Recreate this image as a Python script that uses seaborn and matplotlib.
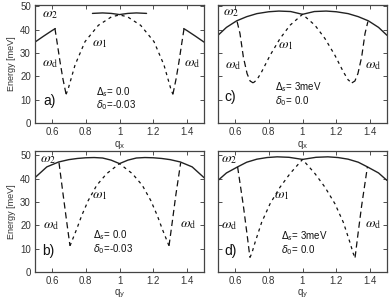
import matplotlib
matplotlib.use('Agg')
import matplotlib.pyplot as plt
import seaborn as sns

# values (q in r.l.u., energy in meV)

# a) delta_s = 0, delta_0 = -0.03, along q_x
a_w2_left_x = [0.5, 0.55, 0.6, 0.62]
a_w2_left_y = [34.7, 37.2, 39.6, 40.5]
a_w2_mid_x = [0.84, 0.9, 0.95, 1.0, 1.05, 1.1, 1.16]
a_w2_mid_y = [47.0, 47.2, 47.0, 46.5, 47.0, 47.2, 47.0]
a_w2_right_x = [1.38, 1.4, 1.45, 1.5]
a_w2_right_y = [40.5, 39.6, 37.2, 34.7]
a_wd_left_x = [0.618, 0.633, 0.648, 0.665, 0.684]
a_wd_left_y = [40.5, 33.5, 26.3, 19.0, 12.3]
a_wd_right_x = [1.316, 1.335, 1.352, 1.367, 1.382]
a_wd_right_y = [12.3, 19.0, 26.3, 33.5, 40.5]
a_w1_x = [0.684, 0.697, 0.737, 0.796, 0.875, 0.954, 1.0, 1.046, 1.125, 1.204, 1.263, 1.303, 1.316]
a_w1_y = [12.3, 14.8, 24.9, 34.9, 41.9, 45.6, 46.3, 45.6, 41.9, 34.9, 24.9, 14.8, 12.3]

# c) delta_s = 3 meV, delta_0 = 0, along q_x
c_w2_x = [0.5, 0.55, 0.61, 0.67, 0.73, 0.8, 0.86, 0.93, 1.0, 1.07, 1.14, 1.2, 1.27, 1.33, 1.39, 1.45, 1.5]
c_w2_y = [37.6, 41.0, 43.8, 45.6, 46.9, 47.7, 48.0, 47.8, 46.6, 47.8, 48.0, 47.7, 46.9, 45.6, 43.8, 41.0, 37.6]
c_wd_left_x = [0.613, 0.63, 0.65, 0.672, 0.69, 0.708]
c_wd_left_y = [43.5, 38.4, 28.3, 21.2, 18.0, 17.2]
c_wd_right_x = [1.292, 1.31, 1.328, 1.35, 1.37, 1.387]
c_wd_right_y = [17.2, 18.0, 21.2, 28.3, 38.4, 43.5]
c_w1_x = [0.708, 0.73, 0.758, 0.808, 0.867, 0.926, 1.0, 1.074, 1.133, 1.192, 1.242, 1.27, 1.292]
c_w1_y = [17.2, 18.5, 21.9, 29.0, 36.2, 41.9, 46.6, 41.9, 36.2, 29.0, 21.9, 18.5, 17.2]

# b) delta_s = 0, delta_0 = -0.03, along q_y
b_w2_x = [0.5, 0.57, 0.64, 0.7, 0.75, 0.8, 0.85, 0.9, 0.95, 1.0, 1.05, 1.1, 1.15, 1.2, 1.25, 1.3, 1.36, 1.43, 1.5]
b_w2_y = [40.4, 45.0, 47.1, 48.1, 48.6, 48.9, 49.0, 48.8, 47.9, 46.4, 47.9, 48.8, 49.0, 48.9, 48.6, 48.1, 47.1, 45.0, 40.4]
b_wd_left_x = [0.642, 0.667, 0.688, 0.707]
b_wd_left_y = [46.8, 32.8, 21.3, 11.2]
b_wd_right_x = [1.293, 1.312, 1.333, 1.362]
b_wd_right_y = [11.2, 21.3, 32.8, 46.8]
b_w1_x = [0.707, 0.747, 0.776, 0.815, 0.865, 0.924, 1.0, 1.076, 1.135, 1.185, 1.224, 1.253, 1.293]
b_w1_y = [11.2, 18.4, 24.1, 30.6, 37.1, 42.1, 46.4, 42.1, 37.1, 30.6, 24.1, 18.4, 11.2]

# d) delta_s = 3 meV, delta_0 = 0, along q_y
d_w2_x = [0.5, 0.55, 0.616, 0.67, 0.73, 0.79, 0.85, 0.92, 1.0, 1.08, 1.15, 1.21, 1.27, 1.33, 1.384, 1.45, 1.5]
d_w2_y = [39.2, 42.4, 45.0, 47.0, 48.3, 49.0, 49.3, 49.1, 48.2, 49.1, 49.3, 49.0, 48.3, 47.0, 45.0, 42.4, 39.2]
d_wd_left_x = [0.616, 0.65, 0.673, 0.689]
d_wd_left_y = [45.0, 28.4, 15.5, 6.2]
d_wd_right_x = [1.311, 1.327, 1.35, 1.384]
d_wd_right_y = [6.2, 15.5, 28.4, 45.0]
d_w1_x = [0.689, 0.7, 0.719, 0.758, 0.808, 0.867, 0.926, 1.0, 1.074, 1.133, 1.192, 1.242, 1.281, 1.3, 1.311]
d_w1_y = [6.2, 8.0, 12.6, 21.2, 29.2, 36.3, 42.1, 48.2, 42.1, 36.3, 29.2, 21.2, 12.6, 8.0, 6.2]

x_ticks = [0.6, 0.8, 1.0, 1.2, 1.4]
x_tick_labels = ['0.6', '0.8', '1', '1.2', '1.4']
y_ticks = [0, 10, 20, 30, 40, 50]

sns.set_theme(style='ticks')
plt.rcParams['font.family'] = ['Liberation Sans', 'DejaVu Sans']

fig = plt.figure(figsize=(3.9, 3.01), dpi=100)

W, H = 390, 301
def rect(x0, x1, y0, y1):
    return [x0 / W, 1 - y1 / H, (x1 - x0) / W, (y1 - y0) / H]

panels = {
    'a': dict(rect=rect(35, 204, 5, 123), ylim=50.6),
    'c': dict(rect=rect(218, 387, 5, 123), ylim=50.6),
    'b': dict(rect=rect(35, 204, 151, 272), ylim=51.8),
    'd': dict(rect=rect(218, 387, 151, 272), ylim=51.8),
}

axes = {}
for key, p in panels.items():
    ax = fig.add_axes(p['rect'])
    ax.set_xlim(0.5, 1.5)
    ax.set_ylim(0, p['ylim'])
    ax.set_xticks(x_ticks)
    ax.set_xticklabels(x_tick_labels)
    ax.set_yticks(y_ticks)
    ax.tick_params(direction='in', length=3, width=0.6, top=True, right=True,
                   labelsize=7, pad=3, colors='#333333')
    for s in ax.spines.values():
        s.set_color('#444444')
        s.set_linewidth(0.9)
    if key in ('c', 'd'):
        ax.set_yticklabels([])
    else:
        ax.set_ylabel('Energy [meV]', fontsize=6.5, labelpad=3, color='#333333')
    axes[key] = ax

solid = dict(color='#222222', linewidth=1.0, linestyle='-')
long_dash = dict(color='#111111', linewidth=0.9, dashes=(5, 3))
short_dash = dict(color='#111111', linewidth=0.9, dashes=(2.5, 3))

def draw(ax, x, y, style):
    sns.lineplot(x=x, y=y, ax=ax, sort=False, estimator=None, **style)

ax = axes['a']
draw(ax, a_w2_left_x, a_w2_left_y, solid)
draw(ax, a_w2_mid_x, a_w2_mid_y, solid)
draw(ax, a_w2_right_x, a_w2_right_y, solid)
draw(ax, a_wd_left_x, a_wd_left_y, long_dash)
draw(ax, a_wd_right_x, a_wd_right_y, long_dash)
draw(ax, a_w1_x, a_w1_y, short_dash)

for key, w2x, w2y, wdlx, wdly, wdrx, wdry, w1x, w1y in [
        ('c', c_w2_x, c_w2_y, c_wd_left_x, c_wd_left_y, c_wd_right_x, c_wd_right_y, c_w1_x, c_w1_y),
        ('b', b_w2_x, b_w2_y, b_wd_left_x, b_wd_left_y, b_wd_right_x, b_wd_right_y, b_w1_x, b_w1_y),
        ('d', d_w2_x, d_w2_y, d_wd_left_x, d_wd_left_y, d_wd_right_x, d_wd_right_y, d_w1_x, d_w1_y)]:
    ax = axes[key]
    draw(ax, w2x, w2y, solid)
    draw(ax, wdlx, wdly, long_dash)
    draw(ax, wdrx, wdry, long_dash)
    draw(ax, w1x, w1y, short_dash)

# annotations (axes fraction positions)
labels = {
    'a': dict(w2=(0.04, 0.92), w1=(0.34, 0.68), wdl=(0.04, 0.51), wdr=(0.88, 0.51),
              ds=(0.36, 0.265), d0=(0.36, 0.15), tag=(0.05, 0.19),
              ds_txt='= 0.0', d0_txt='=-0.03'),
    'c': dict(w2=(0.03, 0.94), w1=(0.355, 0.66), wdl=(0.04, 0.49), wdr=(0.87, 0.49),
              ds=(0.34, 0.30), d0=(0.34, 0.185), tag=(0.04, 0.22),
              ds_txt='= 3meV', d0_txt='= 0.0'),
    'b': dict(w2=(0.03, 0.93), w1=(0.335, 0.64), wdl=(0.05, 0.39), wdr=(0.86, 0.40),
              ds=(0.345, 0.305), d0=(0.345, 0.19), tag=(0.04, 0.17),
              ds_txt='= 0.0', d0_txt='=-0.03'),
    'd': dict(w2=(0.02, 0.93), w1=(0.33, 0.64), wdl=(0.02, 0.39), wdr=(0.87, 0.40),
              ds=(0.37, 0.30), d0=(0.37, 0.185), tag=(0.04, 0.17),
              ds_txt='= 3meV', d0_txt='= 0.0'),
}
for key, lab in labels.items():
    ax = axes[key]
    om = dict(transform=ax.transAxes, fontsize=10, ha='left', va='center',
              math_fontfamily='stix', color='#111111')
    ax.text(*lab['w2'], r'$\omega_2$', **om)
    ax.text(*lab['w1'], r'$\omega_1$', **om)
    ax.text(*lab['wdl'], r'$\omega_{\rm d}$', **om)
    ax.text(*lab['wdr'], r'$\omega_{\rm d}$', **om)
    tx = dict(transform=ax.transAxes, fontsize=7, ha='left', va='center',
              math_fontfamily='dejavusans', color='#111111')
    ax.text(*lab['ds'], r'$\Delta_s$' + lab['ds_txt'], **tx)
    ax.text(*lab['d0'], r'$\delta_0$' + lab['d0_txt'], **tx)
    ax.text(*lab['tag'], key + ')', transform=ax.transAxes, fontsize=10,
            ha='left', va='center', color='#111111')

for key in ('a', 'c'):
    axes[key].set_xlabel(r'q$_{\rm x}$', fontsize=7, labelpad=1, color='#333333')
for key in ('b', 'd'):
    axes[key].set_xlabel(r'q$_{\rm y}$', fontsize=7, labelpad=1, color='#333333')

fig.savefig('out.png', dpi=100)
